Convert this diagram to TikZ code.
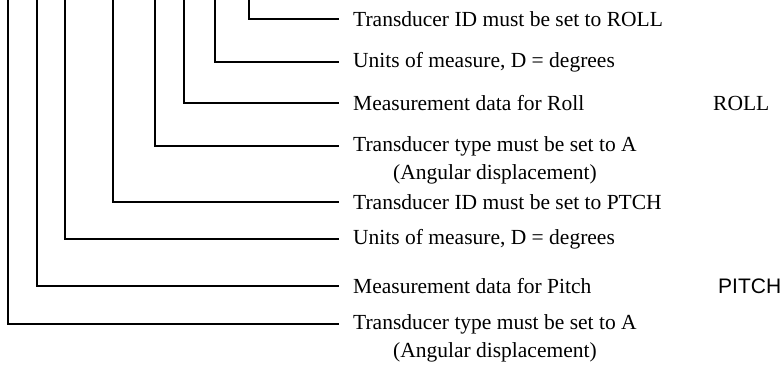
\documentclass[tikz,border=0pt]{standalone}
\usepackage{fontspec}
\setmainfont{Liberation Serif}
\newfontfamily\arialfont{Liberation Sans}
\usetikzlibrary{positioning, calc}

\begin{document}
\begin{tikzpicture}[
        x=1pt, y=-1pt,
        lbl/.style={anchor=west, inner xsep=14pt, inner ysep=2pt,
                    font=\fontsize{21.5}{26}\selectfont},
        note/.style={anchor=center, inner sep=2pt,
                    font=\fontsize{21.5}{26}\selectfont},
        field/.style={anchor=west, inner sep=0pt},
        lead/.style={line width=1.1pt, black}
    ]
        \useasboundingbox (0,0) rectangle (780,368);

        % Top ends of the leaders
        \coordinate (t-typep) at (8,0);
        \coordinate (t-measp) at (37,0);
        \coordinate (t-unitp) at (65,0);
        \coordinate (t-idp) at (113,0);
        \coordinate (t-typer) at (155,0);
        \coordinate (t-measr) at (184,0);
        \coordinate (t-unitr) at (215,0);
        \coordinate (t-idr) at (249,0);

        % Labels
        \node[lbl] (idr) at (339,19) {Transducer ID must be set to ROLL};
        \node[lbl] (unitr) at (339,62) {Units of measure, D = degrees};
        \node[lbl] (measr) at (339,103) {Measurement data for Roll};
        \node[lbl] (typer) at (339,146) {Transducer type must be set to A};
        \node[note] (typer-note) at ([yshift=-28pt]typer.center) {(Angular displacement)};
        \node[lbl] (idp) at (339,202) {Transducer ID must be set to PTCH};
        \node[lbl] (unitp) at (339,239) {Units of measure, D = degrees};
        \node[lbl] (measp) at (339,286) {Measurement data for Pitch};
        \node[lbl] (typep) at (339,324) {Transducer type must be set to A};
        \node[note] (typep-note) at ([yshift=-28pt]typep.center) {(Angular displacement)};

        % Field values
        \node[field, font=\fontsize{21.5}{26}\selectfont] (roll) at (713,103) {ROLL};
        \node[field, font=\arialfont\fontsize{21}{26}\selectfont] (pitch) at (718,286) {PITCH};

        % Leaders
        \draw[lead] (t-idr) |- (idr.west);
        \draw[lead] (t-unitr) |- (unitr.west);
        \draw[lead] (t-measr) |- (measr.west);
        \draw[lead] (t-typer) |- (typer.west);
        \draw[lead] (t-idp) |- (idp.west);
        \draw[lead] (t-unitp) |- (unitp.west);
        \draw[lead] (t-measp) |- (measp.west);
        \draw[lead] (t-typep) |- (typep.west);
    \end{tikzpicture}
\end{document}
